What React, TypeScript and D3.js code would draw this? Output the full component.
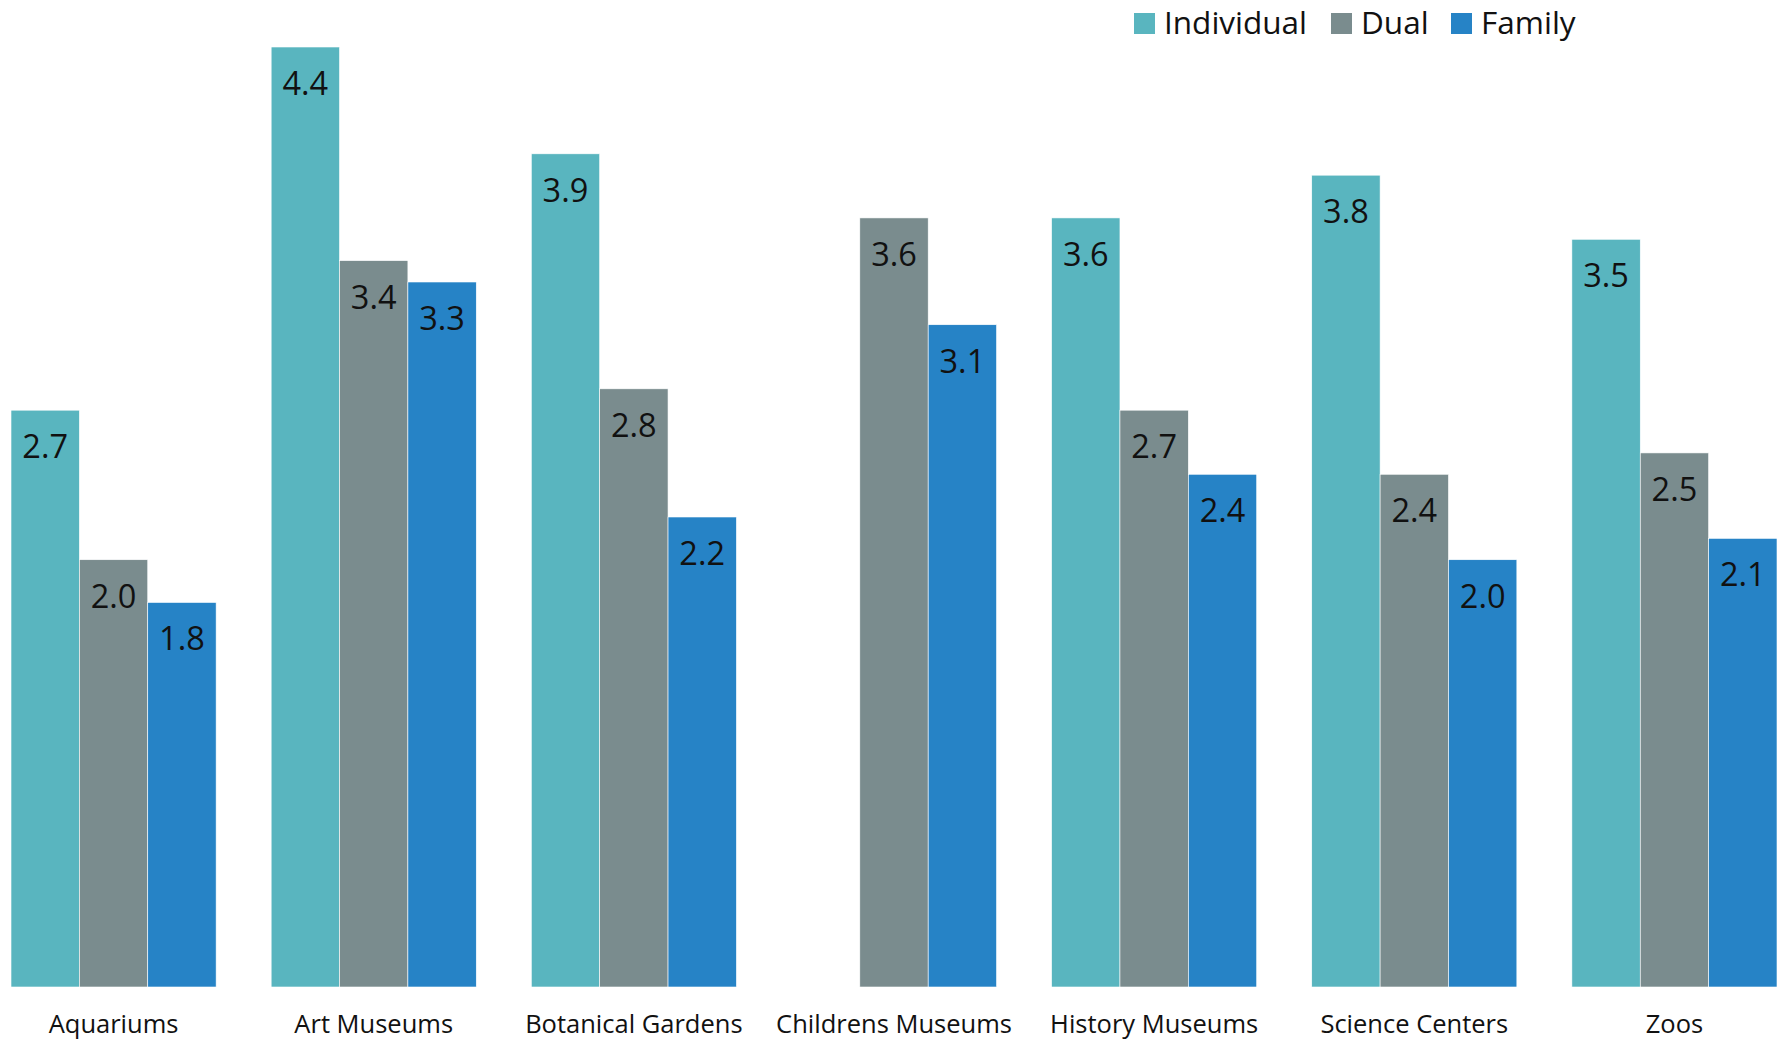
import React from "react";
import * as d3 from "d3";

const categories = ["Aquariums", "Art Museums", "Botanical Gardens", "Childrens Museums", "History Museums", "Science Centers", "Zoos"];
const seriesNames = ["Individual", "Dual", "Family"];
const individual: (number | null)[] = [2.7, 4.4, 3.9, null, 3.6, 3.8, 3.5];
const dual: (number | null)[] = [2.0, 3.4, 2.8, 3.6, 2.7, 2.4, 2.5];
const family: (number | null)[] = [1.8, 3.3, 2.2, 3.1, 2.4, 2.0, 2.1];
const colors = ["#59B5BF", "#7A8C8E", "#2683C6"];

const W = 1784;
const H = 1040;
const FONT = "'Open Sans', sans-serif";

export default function App() {
  const series = [individual, dual, family];
  const x0 = d3.scaleBand<string>().domain(categories).range([11, 1777]).paddingInner(0.2115).paddingOuter(0);
  const x1 = d3.scaleBand<string>().domain(seriesNames).range([0, x0.bandwidth()]).padding(0);
  const y = d3.scaleLinear().domain([0, 4.62]).range([987, 0]);

  const legendX = [1134, 1331, 1451];

  return (
    <svg width={W} height={H} style={{ position: "absolute", left: 0, top: 0, background: "#fff" }} fontFamily={FONT}>
      {categories.map((c, ci) => (
        <g key={c} transform={`translate(${x0(c)},0)`}>
          {seriesNames.map((s, si) => {
            const v = series[si][ci];
            if (v === null) return null;
            const bx = x1(s)!;
            const bw = x1.bandwidth();
            return (
              <g key={s}>
                <rect x={bx} y={y(v)} width={bw} height={y(0) - y(v)} fill={colors[si]} stroke="#ffffff" strokeWidth={0.6} />
                <text x={bx + bw / 2} y={y(v) + 48} textAnchor="middle" fontSize={32.5} fill="#111">
                  {v.toFixed(1)}
                </text>
              </g>
            );
          })}
          <text x={x0.bandwidth() / 2} y={1033} textAnchor="middle" fontSize={25.5} fill="#111">
            {c}
          </text>
        </g>
      ))}
      {seriesNames.map((s, si) => (
        <g key={s}>
          <rect x={legendX[si]} y={13} width={21} height={21} fill={colors[si]} />
          <text x={legendX[si] + 30} y={34} fontSize={31.5} fill="#111">
            {s}
          </text>
        </g>
      ))}
    </svg>
  );
}
